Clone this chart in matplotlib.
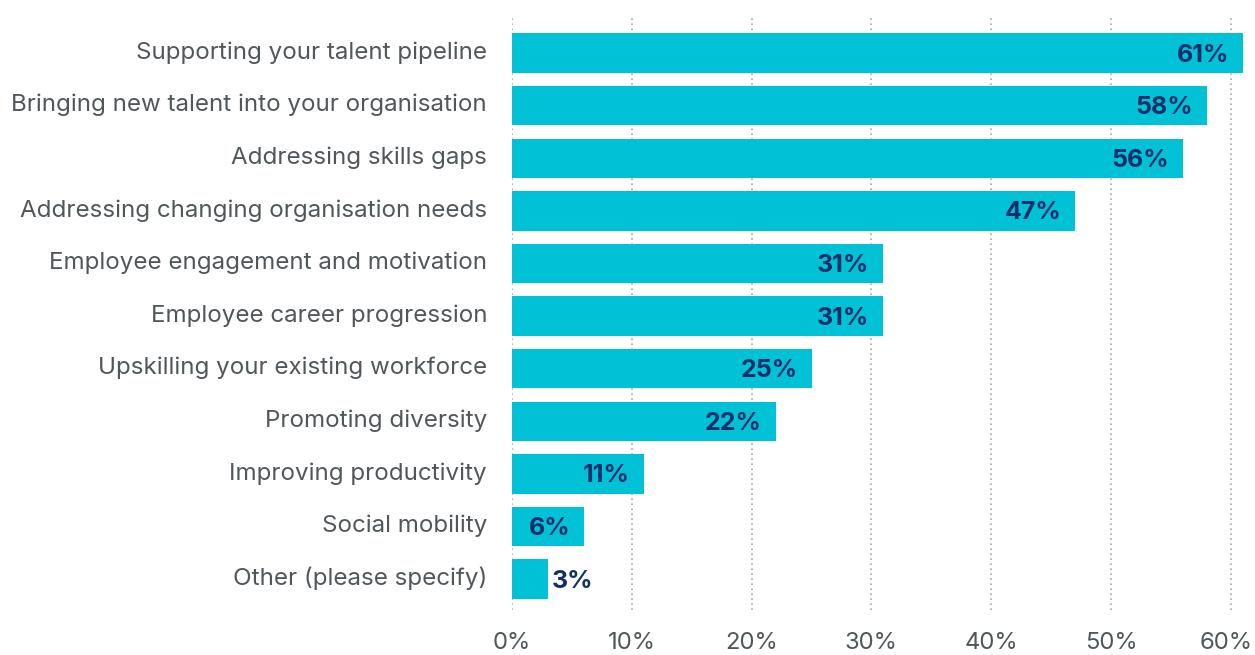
import matplotlib
matplotlib.use("Agg")
import matplotlib.pyplot as plt
import matplotlib.transforms as mtransforms
import numpy as np

plt.rcParams['font.family'] = ['Inter', 'DejaVu Sans']

categories = [
    "Supporting your talent pipeline",
    "Bringing new talent into your organisation",
    "Addressing skills gaps",
    "Addressing changing organisation needs",
    "Employee engagement and motivation",
    "Employee career progression",
    "Upskilling your existing workforce",
    "Promoting diversity",
    "Improving productivity",
    "Social mobility",
    "Other (please specify)",
]
values = [61, 58, 56, 47, 31, 31, 25, 22, 11, 6, 3]
xticks = [0, 10, 20, 30, 40, 50, 60]

bar_color = "#00c1d5"
value_color = "#0f2f6b"
label_color = "#50575b"

fig = plt.figure(figsize=(12.55, 6.55), dpi=100)
ax = fig.add_axes([0.408, 0.0687, 0.587, 0.908])

y = np.arange(len(categories))
ax.barh(y, values, height=0.75, color=bar_color, zorder=2)

for yi, v in zip(y, values):
    inside = v >= 5
    ax.annotate(f"{v}%", (v, yi), xytext=(-10 if inside else 3, -1.5),
                textcoords="offset points",
                ha="right" if inside else "left", va="center",
                fontsize=18, fontweight="bold", color=value_color, zorder=3)

ax.set_xlim(0, 61.5)
ax.set_ylim(len(categories) - 0.41, -0.72)
ax.set_yticks(y)
ax.set_yticklabels(categories, fontsize=17.4, color=label_color)
ax.set_xticks(xticks)
ax.set_xticklabels([f"{t}%" for t in xticks], fontsize=17.2, color=label_color)
ax.tick_params(axis="y", length=0, pad=18)
ax.tick_params(axis="x", length=0, pad=16)

# nudge category labels up a little
shift = mtransforms.ScaledTranslation(0, 3 / 100, fig.dpi_scale_trans)
for lbl in ax.get_yticklabels():
    lbl.set_transform(lbl.get_transform() + shift)

# keep the last x label inside the figure
last = ax.get_xticklabels()[-1]
last.set_transform(last.get_transform()
                   + mtransforms.ScaledTranslation(-5 / 100, 0, fig.dpi_scale_trans))

for t in xticks:
    ax.axvline(t, color="#a8a8a8", linestyle=(0, (1, 2)), linewidth=1.2, zorder=1)

for s in ax.spines.values():
    s.set_visible(False)

fig.savefig("out.png", dpi=100)
